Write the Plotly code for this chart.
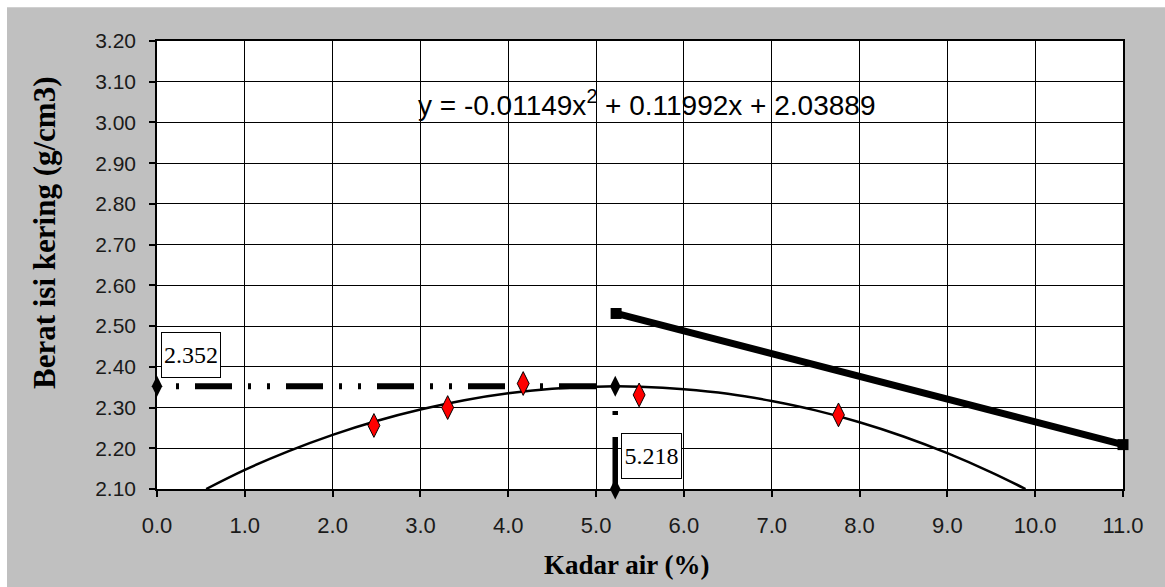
import plotly.graph_objects as go

# ---- data ----
moisture = [2.47, 3.31, 4.17, 5.49, 7.76]          # Kadar air (%)
dry_density = [2.256, 2.300, 2.359, 2.331, 2.282]   # Berat isi kering (g/cm3)

trend_x = [0.56, 1.0, 1.5, 2.0, 2.5, 3.0, 3.5, 4.0, 4.5, 5.0, 5.218, 5.5, 6.0, 6.5, 7.0, 7.5, 8.0, 8.5, 9.0, 9.5, 9.89]
trend_y = [2.100, 2.147, 2.193, 2.233, 2.267, 2.295, 2.318, 2.335, 2.346, 2.351, 2.352, 2.351, 2.345, 2.334, 2.316, 2.293, 2.264, 2.229, 2.188, 2.141, 2.100]

zav_x = [5.228, 11.0]
zav_y = [2.531, 2.209]

opt_moisture = 5.218
max_density = 2.352
equation = "y = -0.01149x<sup>2</sup> + 0.11992x + 2.03889"

x_title = "Kadar air (%)"
y_title = "Berat isi kering (g/cm3)"

SANS = "Liberation Sans, Arial, sans-serif"
SERIF = "Liberation Serif, Times New Roman, serif"

fig = go.Figure()

# trendline
fig.add_trace(go.Scatter(x=trend_x, y=trend_y, mode="lines",
                         line=dict(color="black", width=2.5, shape="spline"),
                         hoverinfo="skip", showlegend=False))

# horizontal dash-dot-dot line to max density
fig.add_trace(go.Scatter(x=[0, opt_moisture], y=[max_density, max_density], mode="lines",
                         line=dict(color="black", width=6, dash="3px,16px,3px,16px,37px,16px"),
                         showlegend=False, cliponaxis=False))
# vertical line to optimum moisture
fig.add_trace(go.Scatter(x=[opt_moisture, opt_moisture], y=[2.10, max_density], mode="lines",
                         line=dict(color="black", width=5.5, dash="52px,22px,4px,40px"),
                         showlegend=False, cliponaxis=False))
fig.add_trace(go.Scatter(x=[0, opt_moisture, opt_moisture], y=[max_density, max_density, 2.10],
                         mode="markers",
                         marker=dict(symbol="diamond-tall", size=15, color="black"),
                         showlegend=False, cliponaxis=False))

# zero air void line
fig.add_trace(go.Scatter(x=zav_x, y=zav_y, mode="lines+markers",
                         line=dict(color="black", width=7),
                         marker=dict(symbol="square", size=11, color="black"),
                         showlegend=False, cliponaxis=False))

# measured points
fig.add_trace(go.Scatter(x=moisture, y=dry_density, mode="markers",
                         marker=dict(symbol="diamond-tall", size=17, color="#ff0000",
                                     line=dict(color="black", width=1)),
                         showlegend=False, cliponaxis=False))

annotations = [
    dict(x=5.575, y=3.049, xref="x", yref="y", text=equation, showarrow=False,
         font=dict(family=SANS, size=28, color="black")),
    dict(x=0.387, y=2.428, xref="x", yref="y", text=f"{max_density:.3f}", showarrow=False,
         font=dict(family=SERIF, size=24, color="black"), bgcolor="white",
         bordercolor="black", borderwidth=1, width=58, height=44, borderpad=0),
    dict(x=5.632, y=2.182, xref="x", yref="y", text=f"{opt_moisture:.3f}", showarrow=False,
         font=dict(family=SERIF, size=24, color="black"), bgcolor="white",
         bordercolor="black", borderwidth=1, width=59, height=44, borderpad=0),
    dict(x=(44 - 157) / 966, y=(489.3 - 233) / 448.6, xref="paper", yref="paper",
         text=f"<b>{y_title}</b>", textangle=-90, showarrow=False,
         xanchor="center", yanchor="middle",
         font=dict(family=SERIF, size=31, color="black")),
    dict(x=(627 - 157) / 966, y=(489.3 - 565) / 448.6, xref="paper", yref="paper",
         text=f"<b>{x_title}</b>", showarrow=False, xanchor="center", yanchor="middle",
         font=dict(family=SERIF, size=27, color="black")),
]

shapes = [
    dict(type="rect", xref="paper", yref="paper", layer="above",
         x0=(0 - 157) / 966, x1=(1165 - 157) / 966,
         y0=(489.3 - 7) / 448.6, y1=(489.3 + 5) / 448.6,
         fillcolor="white", line=dict(width=0)),
    dict(type="rect", xref="paper", yref="paper", layer="above",
         x0=(-5 - 157) / 966, x1=(7 - 157) / 966,
         y0=(489.3 - 600) / 448.6, y1=(489.3 + 5) / 448.6,
         fillcolor="white", line=dict(width=0)),
]

fig.update_layout(
    width=1165, height=587,
    margin=dict(l=157, r=42, t=41, b=98),
    paper_bgcolor="#c0c0c0", plot_bgcolor="white",
    annotations=annotations, shapes=shapes,
    showlegend=False,
)
fig.update_xaxes(range=[0, 11], dtick=1, tick0=0, tickformat=".1f",
                 showgrid=True, gridcolor="black", gridwidth=1,
                 showline=True, linecolor="black", linewidth=1.5, mirror=True,
                 ticks="outside", ticklen=6, tickcolor="black", tickwidth=1.5,
                 tickfont=dict(family=SANS, size=22, color="#1a1a1a"),
                 ticklabelstandoff=10, zeroline=False)
fig.update_yaxes(range=[2.10, 3.20], dtick=0.1, tick0=2.10, tickformat=".2f",
                 showgrid=True, gridcolor="black", gridwidth=1,
                 showline=True, linecolor="black", linewidth=1.5, mirror=True,
                 ticks="outside", ticklen=6, tickcolor="black", tickwidth=1.5,
                 tickfont=dict(family=SANS, size=21, color="#1a1a1a"),
                 ticklabelstandoff=9, zeroline=False)

fig.write_html("out.html")
